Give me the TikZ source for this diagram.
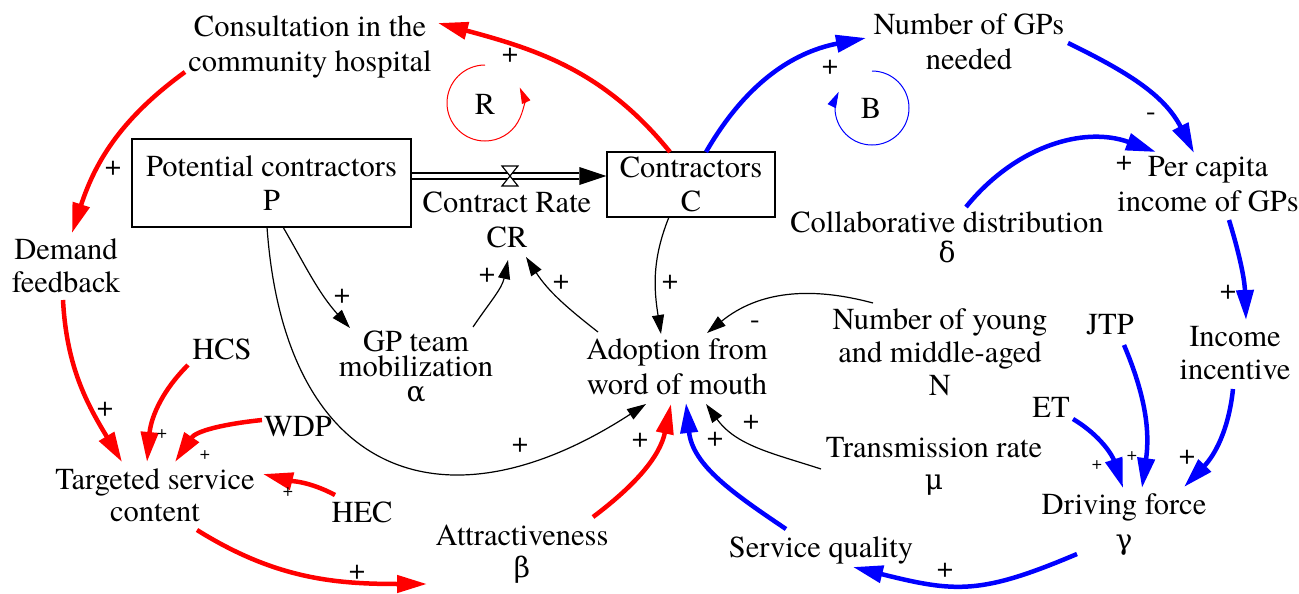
\documentclass[tikz,border=0pt]{standalone}
\usepackage{fontspec}
\setmainfont{TeX Gyre Termes}
\newfontfamily\grk{DejaVu Serif}[Scale=0.92]
\usetikzlibrary{arrows.meta,calc}
\begin{document}
\begin{tikzpicture}[x=1pt,y=1pt,
  lbl/.style={inner sep=0pt, align=center, font=\fontsize{30.5}{35}\selectfont},
  stock/.style={draw, line width=1.4pt, inner sep=0pt, align=center, font=\fontsize{30.5}{34}\selectfont},
  sgn/.style={inner sep=0pt, font=\fontsize{29}{30}\selectfont},
  sgns/.style={inner sep=0pt, font=\fontsize{18}{20}\selectfont},
  redar/.style={red, line width=4.5pt, -{Triangle[length=30pt,width=17pt]}},
  bluear/.style={blue, line width=4.5pt, -{Triangle[length=30pt,width=17pt]}},
  blackar/.style={black, line width=1.2pt, -{Triangle[length=19pt,width=12pt]}},
  loopar/.style={line width=1pt, -{Triangle[length=16pt,width=9pt]}},
  pipe/.style={line width=1.3pt}
]
\useasboundingbox (0,0) rectangle (1299,-594);

% nodes
\node[lbl] (cons) at (310,-47) {Consultation in the\\community hospital};
\node[stock, minimum width=279pt, minimum height=88pt] (P) at (271.5,-183) {Potential contractors\\P};
\node[stock, minimum width=168pt, minimum height=65pt] (C) at (691,-184.5) {Contractors\\C};
\node[lbl] (CR) at (507,-220) {Contract Rate\\CR};
\node[lbl] (num) at (969,-42) {Number of GPs\\needed};
\node[lbl] (pc) at (1208,-184.5) {Per capita\\income of GPs};
\node[lbl, font=\fontsize{30.5}{30}\selectfont] (col) at (947,-237.5) {Collaborative distribution\\{\grk δ}};
\node[lbl, font=\fontsize{30.5}{33}\selectfont] (inc) at (1235,-353) {Income\\incentive};
\node[lbl] (JTP) at (1110,-325) {JTP};
\node[lbl] (ET) at (1051,-407) {ET};
\node[lbl] (drv) at (1124,-524.5) {Driving force\\{\grk γ}};
\node[lbl] (sq) at (821,-550) {Service quality};
\node[lbl] (adop) at (677,-367) {Adoption from\\word of mouth};
\node[lbl, font=\fontsize{30.5}{33}\selectfont] (ny) at (940,-352) {Number of young\\and middle-aged\\N};
\node[lbl, font=\fontsize{30.5}{32}\selectfont] (tr) at (934,-466) {Transmission rate\\{\grk μ}};
\node[lbl, font=\fontsize{30.5}{32}\selectfont] (attr) at (522,-554) {Attractiveness\\{\grk β}};
\node[lbl, font=\fontsize{30.5}{25}\selectfont] (GP) at (416,-366.5) {GP team\\mobilization\\{\grk α}};
\node[lbl, font=\fontsize{30.5}{33}\selectfont] (dem) at (66,-266) {Demand\\feedback};
\node[lbl] (HCS) at (222,-349) {HCS};
\node[lbl] (WDP) at (298,-427) {WDP};
\node[lbl, font=\fontsize{30.5}{32}\selectfont] (tsc) at (155,-495.5) {Targeted service\\content};
\node[lbl] (HEC) at (362,-512) {HEC};

% loops
\coordinate (Rc) at (485,-103);
\coordinate (Bc) at (872,-108);
\node[lbl] (Rt) at (485,-104) {R};
\node[lbl] (Bt) at (871,-108) {B};
\draw[loopar, red] ($(Rc)+(0,38)$) arc[start angle=90, end angle=384, radius=38];
\draw[loopar, blue] ($(Bc)+(0,37)$) arc[start angle=90, end angle=-206, radius=37];

% flow pipe
\coordinate (pipeR) at ($(C.west)+(0,8.5)$);
\coordinate (pipeL) at (P.east |- pipeR);
\draw[pipe] ($(pipeL)+(0,3)$) -- ($(pipeR)+(-27,3)$);
\draw[pipe] ($(pipeL)+(0,-3)$) -- ($(pipeR)+(-27,-3)$);
\fill (pipeR) -- ($(pipeR)+(-27,9)$) -- ($(pipeR)+(-27,-9)$) -- cycle;
\coordinate (valve) at ($(pipeL)!0.505!(pipeR)$);
\filldraw[fill=white, line width=1.2pt] ($(valve)+(-8,10)$) -- ($(valve)+(8,10)$) -- ($(valve)+(-8,-10)$) -- ($(valve)+(8,-10)$) -- cycle;

% connectors
\draw[redar] ($(C)+(-21,32.5)$) to[out=129,in=-15] ($(cons)+(128,24)$);
\draw[bluear] ($(C)+(15,32.5)$) to[out=60,in=191] ($(num)+(-103,4)$);
\draw[bluear] ($(num)+(99,-1)$) to[out=-26,in=117] ($(pc)+(-14,31.5)$);
\draw[bluear] ($(col)+(19,30.5)$) to[out=51,in=160] ($(pc)+(-52,32.5)$);
\draw[bluear] ($(pc)+(21,-35.5)$) to[out=-73,in=92] ($(inc)+(11,33)$);
\draw[bluear] ($(inc)+(-2,-36)$) to[out=-96,in=46] ($(drv)+(60,37.5)$);
\draw[bluear] ($(JTP)+(14,-20)$) to[out=-67,in=82] ($(drv)+(18,36.5)$);
\draw[bluear] ($(ET)+(22,-12)$) to[out=-31,in=108] ($(drv)+(-1,36.5)$);
\draw[bluear] ($(drv)+(-47,-29.5)$) to[out=203,in=-14,looseness=1.2] ($(sq)+(32,-17)$);
\draw[bluear] ($(sq)+(-35,21)$) to[out=146,in=-84] ($(adop)+(9,-36)$);
\draw[redar] ($(attr)+(71,37)$) to[out=37,in=-102] ($(adop)+(-6,-37)$);
\draw[blackar] ($(tr)+(-113,-3)$) to[out=162,in=-54] ($(adop)+(29,-37)$);
\draw[blackar] ($(ny)+(-67,49)$) to[out=165,in=39] ($(adop)+(30,34)$);
\draw[blackar] ($(C)+(-22,-32.5)$) to[out=-112,in=99] ($(adop)+(-16,33)$);
\draw[blackar] ($(adop)+(-79,35)$) to[out=142,in=-57] ($(CR)+(19,-37)$);
\draw[blackar] ($(GP)+(57,39.5)$) to[out=56,in=-102] ($(CR)+(1,-40)$);
\draw[blackar] ($(P)+(11.5,-44)$) to[out=-60,in=132] ($(GP)+(-66,38.5)$);
\draw[blackar] ($(P)+(-4.5,-44)$) to[out=-86,in=-147,looseness=1.5] ($(adop)+(-31,-37)$);
\draw[redar] ($(cons)+(-125,-25)$) to[out=-144,in=72] ($(dem)+(6,33)$);
\draw[redar] ($(dem)+(-3,-34)$) to[out=-87,in=121] ($(tsc)+(-33,33.5)$);
\draw[redar] ($(HCS)+(-34,-16)$) to[out=-135,in=85] ($(tsc)+(-8,33.5)$);
\draw[redar] ($(WDP)+(-36,7)$) to[out=186,in=56] ($(tsc)+(20,33.5)$);
\draw[redar] ($(HEC)+(-27,17)$) to[out=152,in=-14] ($(tsc)+(108,21.5)$);
\draw[redar] ($(tsc)+(42,-34.5)$) to[out=-32,in=180] ($(attr)+(-95,-30)$);

% polarity signs
\node[sgn] (s1) at (113,-168) {+};
\node[sgn] (s2) at (510,-55) {+};
\node[sgn] (s3) at (830,-67) {+};
\node[sgn] (s4) at (1151,-117) {-};
\node[sgn] (s5) at (1124,-163) {+};
\node[sgn] (s6) at (1228,-292) {+};
\node[sgn] (s7) at (1187,-457) {+};
\node[sgns] (s8) at (1132,-456) {+};
\node[sgns] (s9) at (1097,-465) {+};
\node[sgn] (s10) at (945,-570) {+};
\node[sgn] (s11) at (715,-439) {+};
\node[sgn] (s12) at (751,-422) {+};
\node[sgn] (s13) at (640,-440) {+};
\node[sgn] (s14) at (520,-445) {+};
\node[sgn] (s15) at (755,-325) {-};
\node[sgn] (s16) at (670,-282) {+};
\node[sgn] (s17) at (561,-282) {+};
\node[sgn] (s18) at (487,-275) {+};
\node[sgn] (s19) at (342,-296) {+};
\node[sgn] (s20) at (105,-409) {+};
\node[sgns] (s21) at (162,-434) {+};
\node[sgns] (s22) at (205,-455) {+};
\node[sgns] (s23) at (288,-492) {+};
\node[sgn] (s24) at (357,-572) {+};
\end{tikzpicture}
\end{document}
